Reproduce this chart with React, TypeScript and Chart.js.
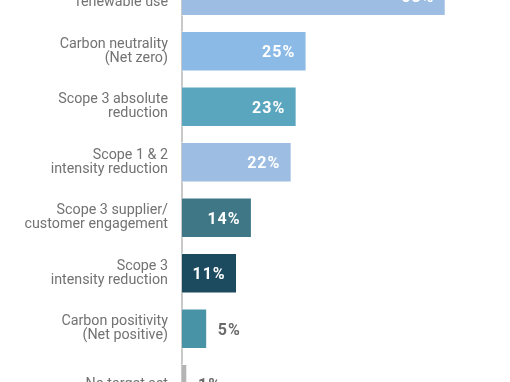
import React, { useEffect, useRef } from "react";
import { Chart, registerables } from "chart.js";

Chart.register(...registerables);

const categories: (string | string[])[] = [
  ["Renewable energy /", "renewable use"],
  ["Carbon neutrality", "(Net zero)"],
  ["Scope 3 absolute", "reduction"],
  ["Scope 1 & 2", "intensity reduction"],
  ["Scope 3 supplier/", "customer engagement"],
  ["Scope 3", "intensity reduction"],
  ["Carbon positivity", "(Net positive)"],
  "No target set",
];
const values: number[] = [53, 25, 23, 22, 14, 11, 5, 1];
const barColors: string[] = [
  "#9dbee2",
  "#8bbae7",
  "#5ba6bf",
  "#9ebde2",
  "#3f7787",
  "#1c4a5e",
  "#4893a6",
  "#b4b4b4",
];
const insideThreshold = 10;

const valueLabels = {
  id: "valueLabels",
  afterDatasetsDraw(chart: any) {
    const ctx = chart.ctx;
    const meta = chart.getDatasetMeta(0);
    ctx.save();
    ctx.font = "bold 16px Roboto";
    (ctx as any).letterSpacing = "1px";
    ctx.textBaseline = "middle";
    meta.data.forEach((bar: any, i: number) => {
      const v = values[i];
      const txt = v + "%";
      if (v >= insideThreshold) {
        ctx.fillStyle = "#ffffff";
        ctx.textAlign = "right";
        ctx.fillText(txt, bar.x - 11, bar.y + 2);
      } else {
        ctx.fillStyle = "#6b6b6b";
        ctx.textAlign = "left";
        ctx.fillText(txt, bar.x + 11, bar.y + 2);
      }
    });
    ctx.restore();
  },
};

export default function App() {
  const ref = useRef<HTMLCanvasElement | null>(null);
  useEffect(() => {
    if (!ref.current) return;
    const chart = new Chart(ref.current, {
      type: "bar",
      data: {
        labels: categories,
        datasets: [
          {
            data: values,
            backgroundColor: barColors,
            borderColor: "rgba(255,255,255,0.6)",
            borderWidth: 1,
            barThickness: 40,
          },
        ],
      },
      options: {
        indexAxis: "y",
        animation: false,
        responsive: false,
        maintainAspectRatio: false,
        devicePixelRatio: 1,
        layout: { padding: 0 },
        plugins: {
          legend: { display: false },
          tooltip: { enabled: false },
        },
        scales: {
          x: {
            display: false,
            min: 0,
            max: 66,
          },
          y: {
            afterFit: (s: any) => {
              s.width = 182;
              s.paddingTop = 0;
              s.paddingBottom = 0;
            },
            grid: { display: false, drawTicks: false },
            border: { display: true, color: "#c9c9c9", width: 2 },
            ticks: {
              padding: 14,
              color: "#727272",
              font: { family: "Roboto", size: 14.3, lineHeight: 0.98 },
            },
          },
        },
      },
      plugins: [valueLabels],
    });
    return () => chart.destroy();
  }, []);
  return (
    <canvas
      ref={ref}
      width={510}
      height={444}
      style={{ position: "absolute", left: 0, top: -32, width: 510, height: 444 }}
    />
  );
}
